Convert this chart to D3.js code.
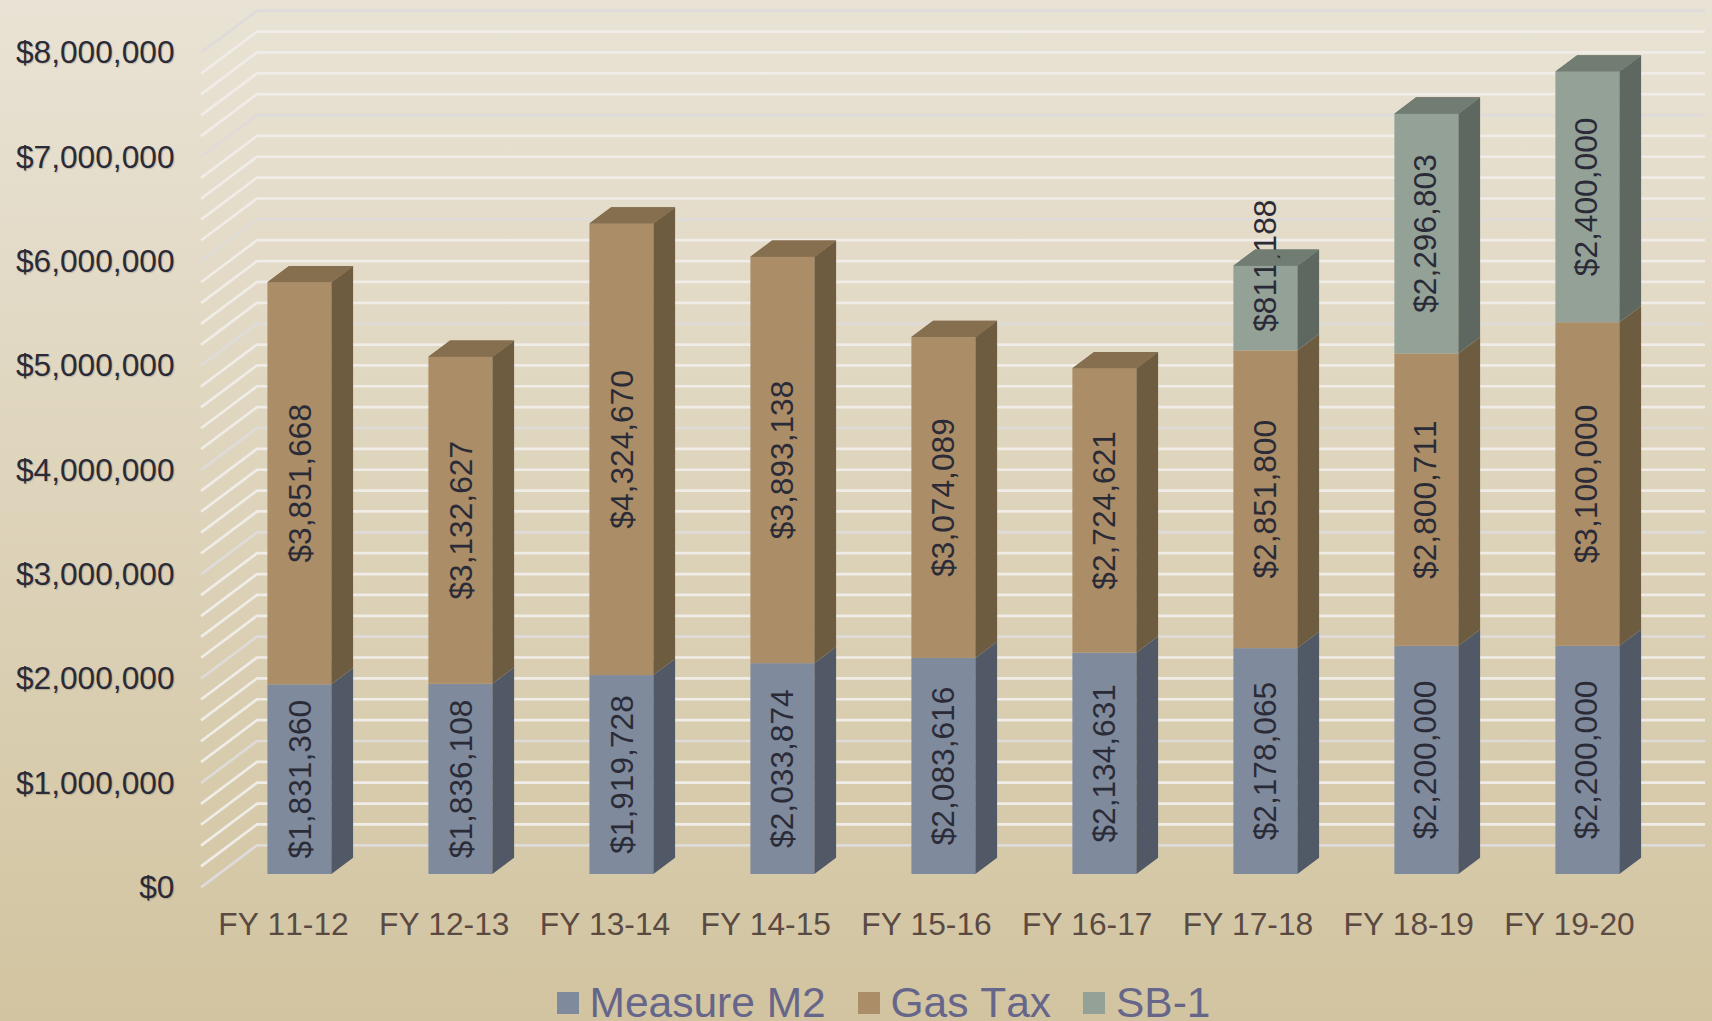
<!DOCTYPE html>
<html><head><meta charset="utf-8">
<style>
html,body{margin:0;padding:0;overflow:hidden;width:1712px;height:1021px}
svg{display:block;font-family:"Liberation Sans",Arial,sans-serif;font-kerning:none}
svg text{font-kerning:none}
.ytick text{text-shadow:1px 1px 1px rgba(60,50,40,.22)}
</style>
<script src="https://cdn.jsdelivr.net/npm/d3@7"></script>
</head><body><div id="chart"></div>
<script>
const categories=["FY 11-12","FY 12-13","FY 13-14","FY 14-15","FY 15-16","FY 16-17","FY 17-18","FY 18-19","FY 19-20"];
const measureM2=[1831360,1836108,1919728,2033874,2083616,2134631,2178065,2200000,2200000];
const gasTax=[3851668,3132627,4324670,3893138,3074089,2724621,2851800,2800711,3100000];
const sb1=[0,0,0,0,0,0,811188,2296803,2400000];
const seriesNames=["Measure M2","Gas Tax","SB-1"];
const faceColors=["#7f8b9d","#ab8e67","#93a197"];
const sideColors=["#515966","#6e5c41","#5e6860"];
const topColors=["#666f7e","#866f4f","#717c72"];
const axisMax=8000000, gridStep=200000, majorStep=1000000;

const W=1712,H=1021;
const svg=d3.select("#chart").append("svg").attr("width",W).attr("height",H);
const defs=svg.append("defs");
const bg=defs.append("linearGradient").attr("id","bg").attr("x1",0).attr("y1",0).attr("x2",0).attr("y2",1);
bg.append("stop").attr("offset",0).attr("stop-color","#e9e3d5");
bg.append("stop").attr("offset",1).attr("stop-color","#d2c4a0");
svg.append("rect").attr("width",W).attr("height",H).attr("fill","url(#bg)");

// scales
const yGrid=d3.scaleLinear().domain([0,axisMax]).range([887.3,52.7]);
const yBar=d3.scaleLinear().domain([0,axisMax]).range([875.5,875.5-835.2]);
const baseY=874;
const xBar=d3.scalePoint().domain(categories).range([299.4,1587.4]);
const xValue=d3.scalePoint().domain(categories).range([311,1597]);
const xLabel=d3.scalePoint().domain(categories).range([283,1569]);
const barW=64, depthX=21.7, depthY=16.3;
const wallX0=201, wallDx=56, wallDy=42, wallEnd=1705;

// gridlines
const gridVals=d3.range(0,axisMax+1,gridStep);
svg.append("g").selectAll("path").data(gridVals).join("path")
  .attr("fill","none")
  .attr("stroke-width",2.7)
  .attr("stroke",d=>d%majorStep===0?"#dedbd9":"#f0ece8")
  .attr("d",d=>d3.line()([[wallX0,yGrid(d)],[wallX0+wallDx,yGrid(d)-wallDy],[wallEnd,yGrid(d)-wallDy]]));

// axes
const yAxis=svg.append("g").attr("class","ytick").attr("transform","translate(174.5,-1)")
  .call(d3.axisLeft(yGrid).tickValues(d3.range(0,axisMax+1,majorStep)).tickSize(0).tickPadding(0).tickFormat(d3.format("$,")));
yAxis.select(".domain").remove();
yAxis.selectAll("text").attr("font-size",31.7).attr("font-family","Liberation Sans").attr("fill","#2b2b38").attr("dy","0.35em");

const xAxis=svg.append("g").attr("transform","translate(0,935)")
  .call(d3.axisBottom(xLabel).tickSize(0).tickPadding(0));
xAxis.select(".domain").remove();
xAxis.selectAll("text").attr("font-size",31.7).attr("font-family","Liberation Sans").attr("fill","#5a4a42").attr("dy",0);

// stacks
const rows=categories.map((c,i)=>({cat:c,"0":measureM2[i],"1":gasTax[i],"2":sb1[i]}));
const stacked=d3.stack().keys(["0","1","2"])(rows);
const gBars=svg.append("g");

categories.forEach((cat,ci)=>{
  const cx=xBar(cat), x0=cx-barW/2, x1=cx+barW/2;
  const g=gBars.append("g");
  const segs=stacked.map((s,si)=>({si,lo:s[ci][0],hi:s[ci][1]})).filter(d=>d.hi>d.lo);
  segs.forEach(d=>{
    const yl=Math.min(yBar(d.lo),baseY), yh=yBar(d.hi);
    g.append("rect").attr("x",x0).attr("y",yh).attr("width",barW).attr("height",yl-yh).attr("fill",faceColors[d.si]);
    g.append("polygon").attr("fill",sideColors[d.si])
      .attr("points",[[x1,yl],[x1+depthX,yl-depthY],[x1+depthX,yh-depthY],[x1,yh]].join(" "));
  });
  const t=segs[segs.length-1], yt=yBar(t.hi);
  const capPts=[[x0,yt],[x0+depthX,yt-depthY],[x1+depthX,yt-depthY],[x1,yt]].join(" ");
  g.append("polygon").attr("fill",topColors[t.si]).attr("points",capPts);
  // labels
  segs.forEach(d=>{
    let mid=(Math.min(yBar(d.lo),baseY)+yBar(d.hi))/2;
    if(cat==="FY 17-18"&&d.si===2) mid=yBar(d.hi); // this label sits centred on the bar's top edge in the source
    g.append("text").attr("transform",`translate(${xValue(cat)},${mid}) rotate(-90)`)
      .attr("text-anchor","middle").attr("font-size",31.7).attr("fill","#2b2b38")
      .text(d3.format("$,")(d.hi-d.lo));
  });
  // top cap again, over the labels
  const cap=g.append("polygon").attr("fill",topColors[t.si]).attr("points",capPts);
  if(cat==="FY 17-18"){
    // small window through the cap where the comma of the overflowing label shows
    defs.append("clipPath").attr("id","capClip").append("path").attr("clip-rule","evenodd")
      .attr("d",`M0 0H${W}V${H}H0Z M${cx+12} ${yt-13}h9v6h-9Z`);
    cap.attr("clip-path","url(#capClip)");
  }
});

// legend
const legendSw=[557,858,1083], legendTx=[589.5,890.5,1116];
const lg=svg.append("g");
seriesNames.forEach((n,i)=>{
  lg.append("rect").attr("x",legendSw[i]).attr("y",992).attr("width",22).attr("height",22).attr("fill",faceColors[i]);
  lg.append("text").attr("x",legendTx[i]).attr("y",1016.5).attr("font-size",42.5).attr("fill","#66668a").text(n);
});
</script></body></html>
